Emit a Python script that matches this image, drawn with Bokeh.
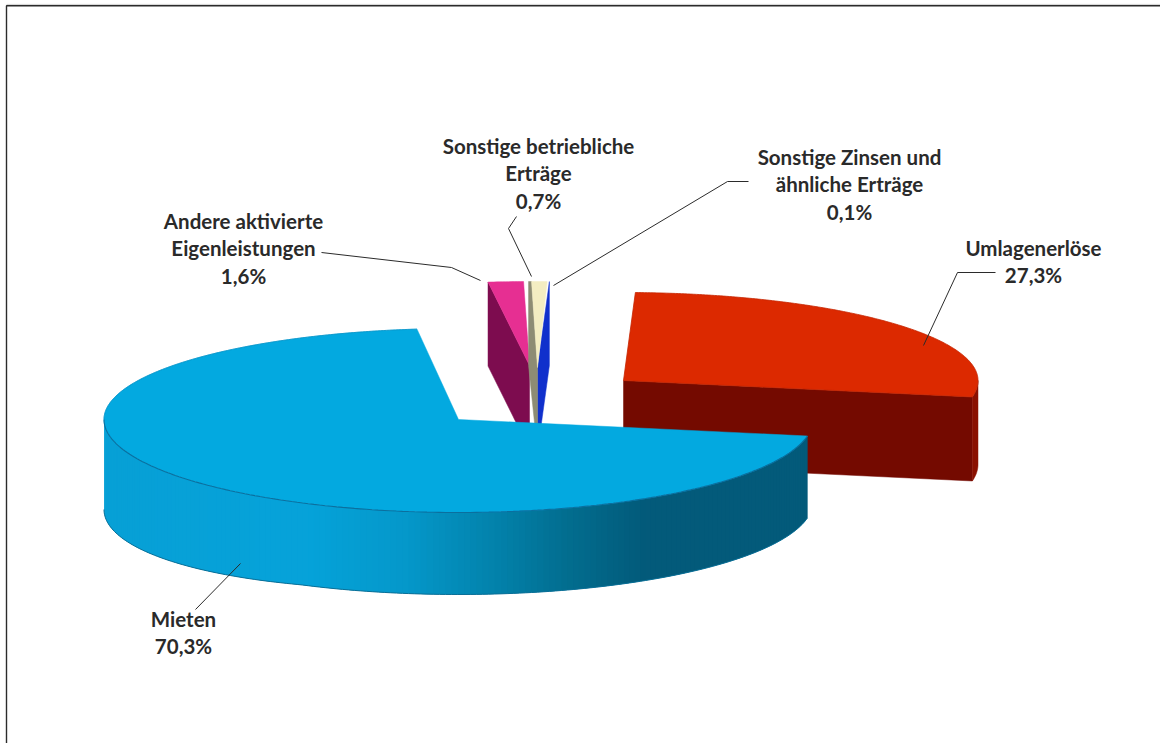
from bokeh.core.properties import value
from bokeh.embed import file_html
from bokeh.models import Range1d
from bokeh.plotting import figure
from bokeh.resources import INLINE
import numpy as np

# Revenue shares in percent, clockwise from the front right of the pie
categories = ["Mieten", "Andere aktivierte Eigenleistungen", "Sonstige betriebliche Erträge",
              "Sonstige Zinsen und ähnliche Erträge", "Umlagenerlöse"]
shares = [70.3, 1.6, 0.7, 0.1, 27.3]

label_lines = [["Mieten"], ["Andere aktivierte", "Eigenleistungen"], ["Sonstige betriebliche", "Erträge"],
               ["Sonstige Zinsen und", "ähnliche Erträge"], ["Umlagenerlöse"]]
label_centres = [(183, 618), (243, 220), (538, 145), (849, 156), (1033, 247)]
leaders = [
    [(195, 609), (240, 563)],
    [(321, 252), (451, 267), (480, 280)],
    [(516, 216), (508, 228), (531, 276)],
    [(748, 181), (727, 181), (553, 285)],
    [(995, 272), (957, 272), (923, 345)],
]

# Pie projection
START = 10.2
RX = 354.5
RY_FRONT = 93.0
DEPTH = 84.0
# Wedge apex and the foreshortened back radius after exploding each slice
apexes = [(458, 419, 91), (529, 365, 84), (537, 367, 86), (537, 367, 86), (623, 380, 88)]
top_colors = ["#03a9e0", "#e62f92", "#f3edc2", "#1436d8", "#dc2900"]
cut_colors = ["#006c93", "#7d0c4f", "#8d8c74", "#1030cc", "#740a00"]
LINE_HEIGHT = 27.5
FONT = value("Lato")

cum = np.concatenate([[0.0], np.cumsum(shares)])
angles = START + 3.6 * cum


def rim(i, a0, a1, step=0.5):
    cx, cy, back = apexes[i]
    t = np.radians(np.linspace(a0, a1, max(2, int(abs(a1 - a0) / step) + 2)))
    s = np.sin(t)
    return cx + RX * np.cos(t), cy + np.where(s > 0, RY_FRONT, back) * s


def side_depth(x):
    # The near-left wall of the big slice reads a little taller
    return 82 + 8 * np.clip((300 - np.asarray(x)) / 197, 0, 1)


def side_color(x):
    # Wall shading runs from the bright left side to the dark right side
    stops = [103, 300, 400, 490, 560, 640, 810]
    r = np.interp(x, stops, [8, 6, 5, 3, 2, 3, 3])
    g = np.interp(x, stops, [160, 163, 152, 130, 110, 90, 90])
    b = np.interp(x, stops, [214, 218, 202, 171, 144, 122, 122])
    return "#%02x%02x%02x" % (int(r), int(g), int(b))


p = figure(width=1160, height=743, x_range=Range1d(0, 1160), y_range=Range1d(743, 0),
           output_backend="svg", toolbar_location=None, min_border=0,
           x_axis_type=None, y_axis_type=None, background_fill_color="white",
           border_fill_color="white", outline_line_color=None)
p.grid.visible = False

# Frame along the top and left
p.line([6, 1160], [3.9, 3.9], line_color="#d4d4d4", line_width=1)
p.line([6, 6, 1160], [743, 5.2, 5.2], line_color="#2b2b2b", line_width=1.4)

# Umlagenerlöse: front cut face, rim wall, top
i = 4
a0, a1 = angles[i], angles[i + 1]
cx, cy, _ = apexes[i]
x_end, y_end = rim(i, a1, a1)
x_end, y_end = x_end[0], y_end[0]
p.patch([cx, x_end, x_end, cx], [cy, y_end, y_end + DEPTH, cy + DEPTH],
        fill_color=cut_colors[i], line_color=cut_colors[i], line_width=0.5)
wx, wy = rim(i, 360, a1)
p.patch(list(wx) + list(wx[::-1]), list(wy) + list((wy + DEPTH)[::-1]),
        fill_color="#8a1000", line_color="#8a1000", line_width=0.5)
tx, ty = rim(i, a0, a1)
p.patch([cx] + list(tx), [cy] + list(ty), fill_color=top_colors[i], line_color="#c52400", line_width=0.8)

# The three thin slices at the back
i = 1
a0, a1 = angles[i], angles[i + 1]
cx, cy, _ = apexes[i]
rx0, ry0 = rim(i, a0, a0)
p.patch([cx, rx0[0], rx0[0], cx], [cy, ry0[0], ry0[0] + DEPTH, cy + DEPTH],
        fill_color=cut_colors[i], line_color=cut_colors[i], line_width=0.5)
tx, ty = rim(i, a0, a1)
p.patch([cx] + list(tx), [cy] + list(ty), fill_color=top_colors[i], line_color=top_colors[i], line_width=0.5)

i = 3
a0, a1 = angles[i], angles[i + 1]
cx, cy, _ = apexes[i]
rx1, ry1 = rim(i, a1, a1)
p.patch([cx, rx1[0], rx1[0], cx], [cy, ry1[0], ry1[0] + DEPTH, cy + DEPTH],
        fill_color=cut_colors[i], line_color=cut_colors[i], line_width=0.5)

i = 2
a0, a1 = angles[i], angles[i + 1]
cx, cy, _ = apexes[i]
rx0, ry0 = rim(i, a0, a0)
p.patch([cx, rx0[0], rx0[0] - 3, rx0[0] - 3, cx],
        [cy, ry0[0], ry0[0], ry0[0] + DEPTH, cy + DEPTH],
        fill_color=cut_colors[i], line_color=cut_colors[i], line_width=0.5)
tx, ty = rim(i, a0, a1)
p.patch([cx] + list(tx), [cy] + list(ty), fill_color=top_colors[i], line_color=top_colors[i], line_width=0.5)

# Mieten: shaded rim wall from overlapping strips so no seams show, then the top
i = 0
a0, a1 = angles[i], angles[i + 1]
cx, cy, _ = apexes[i]
wx, wy = rim(i, a0, 180, step=1.0)
xs, ys, fills = [], [], []
for k in range(len(wx) - 1):
    j = max(k - 1, 0)
    xs.append([wx[j], wx[k + 1], wx[k + 1], wx[j]])
    ys.append([wy[j], wy[k + 1], wy[k + 1] + side_depth(wx[k + 1]), wy[j] + side_depth(wx[j])])
    fills.append(side_color((wx[k] + wx[k + 1]) / 2))
p.patches(xs, ys, fill_color=fills, line_color=None)
p.line(wx, wy + side_depth(wx), line_color="#0a6f97", line_width=1)
tx, ty = rim(i, a0, a1)
p.patch([cx] + list(tx), [cy] + list(ty), fill_color=top_colors[i], line_color=top_colors[i], line_width=0.5)
p.line(wx, wy, line_color="#0b6f9e", line_width=1.1)
bx, by = rim(i, 180, a1)
p.line(bx, by, line_color="#0a93c6", line_width=0.8)

# Leader lines
for path in leaders:
    p.line([q[0] for q in path], [q[1] for q in path], line_color="#2b2b2b", line_width=1)

# Labels: name lines followed by the share, German decimal comma
for lines, (lx, ly), share in zip(label_lines, label_centres, shares):
    rows = lines + [f"{share:.1f}%".replace(".", ",")]
    p.text([lx] * len(rows), [ly + LINE_HEIGHT * k for k in range(len(rows))], text=rows,
           text_font=FONT, text_font_size="20.5px", text_font_style="bold", text_color="#2a2a2a",
           text_align="center", text_baseline="middle")

open("out.html", "w").write(file_html(p, INLINE))
